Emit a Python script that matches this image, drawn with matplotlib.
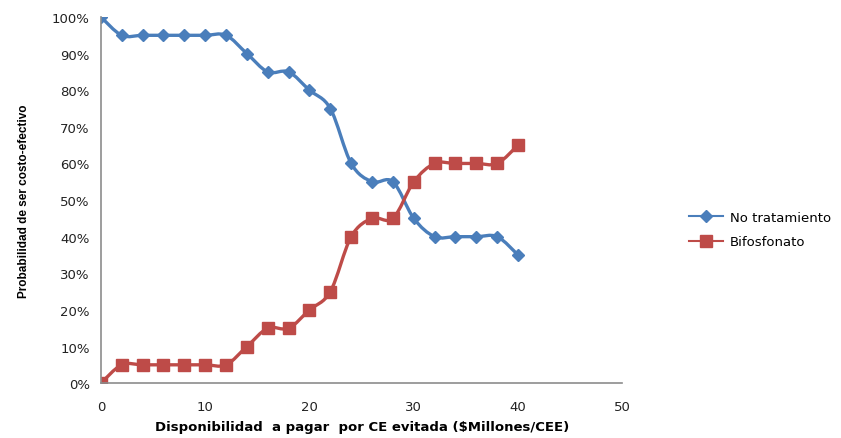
import matplotlib
matplotlib.use("Agg")
import matplotlib.pyplot as plt
from matplotlib.path import Path
from matplotlib.patches import PathPatch
from matplotlib.ticker import PercentFormatter

x = [0, 2, 4, 6, 8, 10, 12, 14, 16, 18, 20, 22, 24, 26, 28, 30, 32, 34, 36, 38, 40]
no_trat = [100, 95, 95, 95, 95, 95, 95, 90, 85, 85, 80, 75, 60, 55, 55, 45, 40, 40, 40, 40, 35]
bifos = [0, 5, 5, 5, 5, 5, 5, 10, 15, 15, 20, 25, 40, 45, 45, 55, 60, 60, 60, 60, 65]

azul = "#4A7EBB"
rojo = "#BE4B48"


def smooth_path(xs, ys):
    # Excel-style smoothed line: cubic bezier through the points
    verts = [(xs[0], ys[0])]
    codes = [Path.MOVETO]
    n = len(xs)
    for i in range(n - 1):
        x0, y0 = (xs[i - 1], ys[i - 1]) if i > 0 else (xs[i], ys[i])
        x3, y3 = (xs[i + 2], ys[i + 2]) if i + 2 < n else (xs[i + 1], ys[i + 1])
        c1 = (xs[i] + (xs[i + 1] - x0) / 6, ys[i] + (ys[i + 1] - y0) / 6)
        c2 = (xs[i + 1] - (x3 - xs[i]) / 6, ys[i + 1] - (y3 - ys[i]) / 6)
        verts += [c1, c2, (xs[i + 1], ys[i + 1])]
        codes += [Path.CURVE4] * 3
    return Path(verts, codes)


fig = plt.figure(figsize=(8.41, 4.39), dpi=100)
ax = fig.add_axes([0.120, 0.125, 0.620, 0.834])

for ys, col, mk, ms, lab in [(no_trat, azul, "D", 6, "No tratamiento"),
                             (bifos, rojo, "s", 8, "Bifosfonato")]:
    ax.add_patch(PathPatch(smooth_path(x, ys), facecolor="none", edgecolor=col,
                           lw=2.4, capstyle="round", joinstyle="round"))
    ax.plot(x, ys, linestyle="none", marker=mk, markersize=ms, color=col)
    ax.plot([], [], color=col, lw=1.5, marker=mk, markersize=ms, label=lab)

ax.set_xlim(0, 50)
ax.set_ylim(0, 100)
ax.set_xticks([0, 10, 20, 30, 40, 50])
ax.set_yticks(range(0, 101, 10))
ax.yaxis.set_major_formatter(PercentFormatter(decimals=0))
ax.tick_params(axis="y", length=0, labelsize=9.5, colors="#222222", pad=8)
ax.tick_params(axis="x", length=0, labelsize=9.5, colors="#222222", pad=12)
for s in ["top", "right"]:
    ax.spines[s].set_visible(False)
for s in ["left", "bottom"]:
    ax.spines[s].set_color("#8C8C8C")
    ax.spines[s].set_linewidth(1.2)

ax.set_xlabel("Disponibilidad  a pagar  por CE evitada ($Millones/CEE)",
              fontsize=9.5, fontweight="bold", labelpad=5)
ax.set_ylabel("Probabilidad de ser costo-efectivo", fontsize=8.5,
              fontweight="bold", family="Liberation Sans", labelpad=16)

leg = fig.legend(loc="upper left", bbox_to_anchor=(0.805, 0.545), frameon=False,
                 fontsize=9.5, handlelength=2.6, labelspacing=0.9, handletextpad=0.5)

fig.savefig("out.png", dpi=100)
